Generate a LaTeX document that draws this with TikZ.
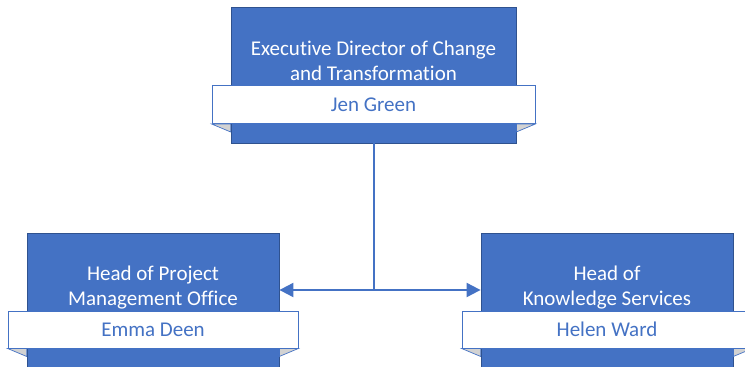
\documentclass[tikz,border=0pt]{standalone}
\usepackage{fontspec}
\setmainfont{Carlito}[Ligatures=NoCommon]
\usetikzlibrary{arrows.meta}
\definecolor{OrgBlue}{HTML}{4472C4}
\definecolor{OrgEdge}{HTML}{2F528F}
\begin{document}
\begin{tikzpicture}[x=1pt, y=-1pt]
	\tikzstyle{Box} = [rectangle, draw=OrgEdge, fill=OrgBlue, line width=0.8pt, inner sep=0pt]
	\tikzstyle{Title} = [text=white, align=center, font=\fontsize{21}{25}\selectfont]
	\tikzstyle{Banner} = [rectangle, draw=OrgBlue, fill=white, line width=0.9pt, inner sep=0pt, text=OrgBlue, font=\fontsize{21}{24}\selectfont]
	\tikzstyle{Fold} = [draw=OrgBlue, fill=gray!35, line width=0.7pt]
	\tikzstyle{Link} = [draw=OrgBlue, line width=2pt, -{Triangle[length=14pt, width=14pt]}]
	\useasboundingbox (0,0) rectangle (745,367);
	% top box
	\node (top) at (373.5,75) [Box, minimum width=285, minimum height=136] {};
	\node (toptitle) at (373.5,61) [Title] {Executive Director of Change\\and Transformation};
	\node (jen) at (373.5,104.5) [Banner, minimum width=323, minimum height=38] {Jen Green};
	\filldraw [Fold] (jen.south west) -- (top.west |- jen.south) -- ++(0,8) -- cycle;
	\filldraw [Fold] (jen.south east) -- (top.east |- jen.south) -- ++(0,8) -- cycle;
	% left box
	\node (pmo) at (153,306.5) [Box, minimum width=252, minimum height=147] {};
	\node (pmotitle) at (153,287.5) [Title] {Head of Project\\Management Office};
	\node (emma) at (153,329.5) [Banner, minimum width=290, minimum height=37] {Emma Deen};
	\filldraw [Fold] (emma.south west) -- (pmo.west |- emma.south) -- ++(0,8) -- cycle;
	\filldraw [Fold] (emma.south east) -- (pmo.east |- emma.south) -- ++(0,8) -- cycle;
	% right box
	\node (ks) at (607,306.5) [Box, minimum width=252, minimum height=147] {};
	\node (kstitle) at (607,287.5) [Title] {Head of\\Knowledge Services};
	\node (helen) at (607,329.5) [Banner, minimum width=290, minimum height=37] {Helen Ward};
	\filldraw [Fold] (helen.south west) -- (ks.west |- helen.south) -- ++(0,8) -- cycle;
	\filldraw [Fold] (helen.south east) -- (ks.east |- helen.south) -- ++(0,8) -- cycle;
	% connectors
	\coordinate (join) at (373.5,290);
	\draw [Link, -] (top.south) to (join);
	\draw [Link] (join) to (pmo.east |- join);
	\draw [Link] (join) to (ks.west |- join);
\end{tikzpicture}
\end{document}
